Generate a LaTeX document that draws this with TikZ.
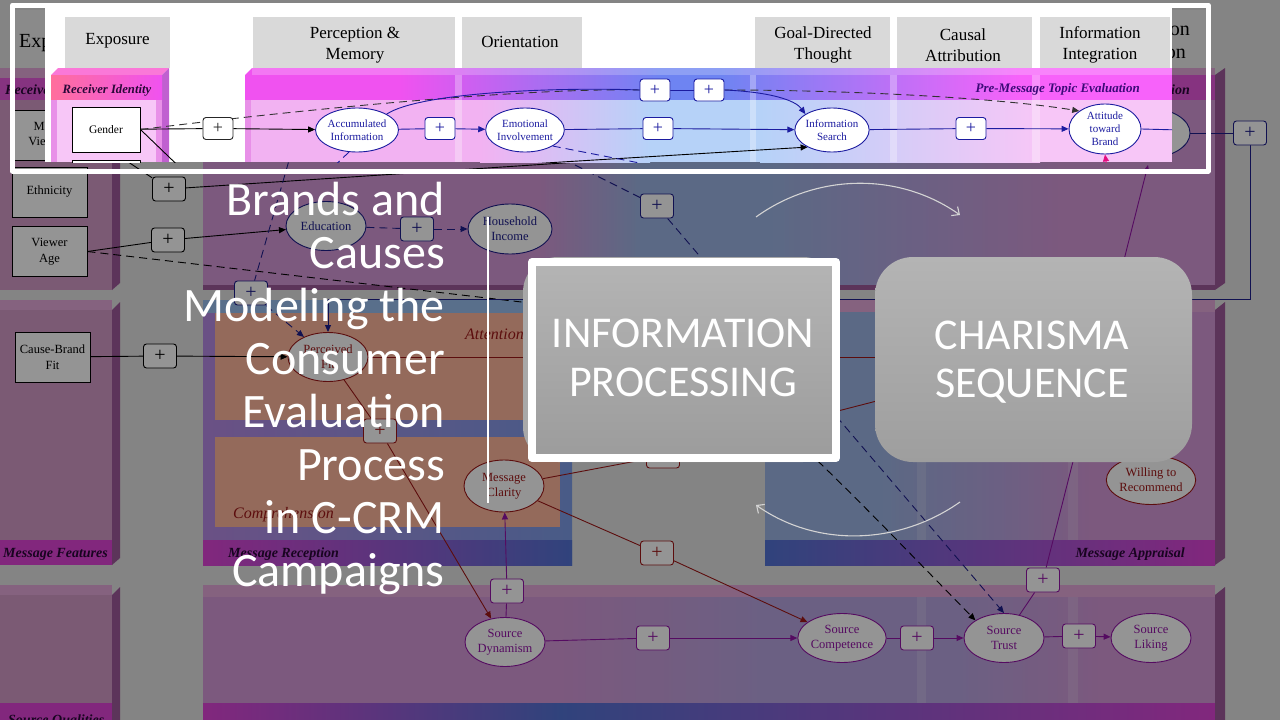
\documentclass[tikz,border=0pt]{standalone}
\usepackage{fontspec}
\setmainfont{Liberation Serif}
\newfontfamily\titlefont{Carlito}
\usetikzlibrary{shapes.geometric,arrows.meta,calc}
\pgfdeclarelayer{lpan}
\pgfdeclarelayer{ledge}
\pgfdeclarelayer{lnode}
\pgfdeclarelayer{lipan}
\pgfdeclarelayer{liedge}
\pgfsetlayers{lpan,ledge,lnode,lipan,liedge,main}
\definecolor{gapg}{HTML}{E4E4E4}
\definecolor{hdrg}{HTML}{EEEEEE}
\definecolor{lpbody}{HTML}{D49CC8}
\definecolor{lpside}{HTML}{A05A9C}
\definecolor{lptop}{HTML}{E6AADC}
\definecolor{hmag}{HTML}{E858DE}
\definecolor{midL}{HTML}{D69ADA}
\definecolor{midB}{HTML}{9EB6E6}
\definecolor{midV}{HTML}{BAA6E2}
\definecolor{mrL}{HTML}{B88CE6}
\definecolor{mrR}{HTML}{7E9EEA}
\definecolor{mrTop}{HTML}{9AC0F0}
\definecolor{orng}{HTML}{FFB89E}
\definecolor{bmag}{HTML}{E044D8}
\definecolor{bblue}{HTML}{5474D6}
\definecolor{navy}{HTML}{1E1E8C}
\definecolor{dred}{HTML}{A01818}
\definecolor{purp}{HTML}{9414A8}
\definecolor{inhdr}{HTML}{D9D9D9}
\definecolor{inPink}{HTML}{F2B2F2}
\definecolor{inPinkD}{HTML}{E890E8}
\definecolor{inPinkL}{HTML}{F7C6F7}
\definecolor{inBlue}{HTML}{B6D2F8}
\definecolor{inMag}{HTML}{F052F0}
\definecolor{inMag2}{HTML}{F762FA}
\definecolor{inHBlue}{HTML}{6E84F2}
\definecolor{inSal}{HTML}{FF6E9C}
\definecolor{inTop}{HTML}{FA78D8}
\definecolor{inSide}{HTML}{C060D0}
\definecolor{inNavy}{HTML}{1C1CA0}
\definecolor{lblc}{HTML}{2A0838}
\definecolor{pmlc}{HTML}{3C0A78}
\definecolor{ipT}{HTML}{B4B4B4}
\definecolor{ipB}{HTML}{9C9C9C}
\definecolor{ipBk}{HTML}{A8A8A8}
\definecolor{chT}{HTML}{B4B4B4}
\definecolor{chB}{HTML}{9E9E9E}
\definecolor{arcc}{HTML}{D4D4D4}
\tikzset{
 arr/.style={-{Triangle[length=7pt,width=6pt]}},
 bgell/.style={ellipse, draw=#1, line width=0.9pt, fill=white, text=#1, minimum width=80pt, minimum height=49pt, inner sep=0pt, align=center, font=\fontsize{12.5}{15}\selectfont},
 bgplus/.style={draw=#1, line width=0.9pt, fill=white, rounded corners=3pt, minimum width=33pt, minimum height=24pt, inner sep=0pt, text=#1, font=\fontsize{20}{20}\selectfont},
 bgbox/.style={draw=black, line width=0.9pt, fill=white, minimum width=75pt, minimum height=50pt, inner sep=0pt, align=center, font=\fontsize{12.5}{15.5}\selectfont},
 bglbl/.style={font=\fontsize{14}{14}\selectfont\bfseries\itshape, text=lblc, inner sep=0pt},
 attn/.style={anchor=base west, inner sep=0pt, text=dred, font=\fontsize{16}{16}\selectfont\itshape},
 inell/.style={ellipse, draw=inNavy, line width=0.9pt, fill=white, text=inNavy, minimum width=74pt, minimum height=44pt, inner sep=0pt, align=center, font=\fontsize{11}{12.5}\selectfont},
 inplus/.style={draw=#1, line width=0.9pt, fill=white, rounded corners=3pt, minimum width=30pt, minimum height=22pt, inner sep=0pt, text=#1, font=\fontsize{18}{18}\selectfont},
 inhead/.style={font=\fontsize{17}{21.5}\selectfont, align=center, inner sep=0pt},
 ttl/.style={anchor=base east, text=white, inner sep=0pt, font=\titlefont\fontsize{48}{53}\selectfont},
 bigt/.style={anchor=base, text=white, inner sep=0pt, font=\titlefont\fontsize{44}{48}\selectfont},
 bgline/.style={line width=0.9pt},
 dsh/.style={dash pattern=on 8pt off 5pt},
}
\begin{document}
\begin{tikzpicture}[x=1pt,y=-1pt,line join=round]
\useasboundingbox (0,0) rectangle (1280,720);

% ================= BACKGROUND PANELS
\begin{pgfonlayer}{lpan}
\fill[gapg] (0,0) rectangle (1280,720);
\fill[hdrg] (12,10) rectangle (120,68);
\fill[hdrg] (1085,10) rectangle (1207,68);
% left column
\fill[lptop] (0,68) rectangle (112,78);
\fill[hmag] (0,78) rectangle (112,100);
\fill[lpbody] (0,100) rectangle (112,290);
\fill[lpside] (112,78) -- (120,70) -- (120,283) -- (112,290) -- cycle;
\fill[lptop] (0,300) rectangle (112,310);
\fill[lpbody] (0,310) rectangle (112,540);
\fill[bmag] (0,540) rectangle (112,565);
\fill[lpside] (112,310) -- (120,302) -- (120,558) -- (112,565) -- cycle;
\fill[lptop] (0,585) rectangle (112,595);
\fill[lpbody] (0,595) rectangle (112,703);
\fill[bmag] (0,703) rectangle (112,720);
\fill[lpside] (112,595) -- (120,587) -- (120,720) -- (112,720) -- cycle;
% row 1 middle
\fill[lptop] (203,68) rectangle (1215,75);
\fill[hmag] (203,75) rectangle (1215,100);
\fill[midL] (203,100) rectangle (540,285);
\shade[left color=midL, right color=midB] (540,100) rectangle (640,285);
\fill[midB] (640,100) rectangle (770,285);
\shade[left color=midB, right color=midV] (770,100) rectangle (920,285);
\shade[left color=midV, right color=midL] (920,100) rectangle (1060,285);
\fill[midL] (1060,100) rectangle (1215,285);
\fill[lpside] (203,285) rectangle (1215,290);
\fill[lpside] (1215,75) -- (1225,68) -- (1225,283) -- (1215,290) -- cycle;
% message reception
\shade[left color=mrL, right color=mrR] (203,300) rectangle (572,565);
\fill[mrTop] (203,300) rectangle (572,313);
\fill[orng] (215,313) rectangle (560,420);
\fill[orng] (215,437) rectangle (560,527);
\shade[left color=bmag, right color=bblue] (203,540) rectangle (572,565);
% message appraisal
\fill[lptop] (765,300) rectangle (1215,312);
\fill[midB] (765,312) rectangle (880,540);
\shade[left color=midB, right color=midV] (880,312) rectangle (1000,540);
\shade[left color=midV, right color=midL] (1000,312) rectangle (1090,540);
\fill[midL] (1090,312) rectangle (1215,540);
\shade[left color=bblue, right color=bmag] (765,540) rectangle (1215,565);
\fill[lpside] (1215,310) -- (1225,302) -- (1225,558) -- (1215,565) -- cycle;
% source row
\fill[lptop] (203,585) rectangle (1215,597);
\fill[midL] (203,597) rectangle (560,703);
\shade[left color=midL, right color=midV] (560,597) rectangle (760,703);
\fill[midV] (760,597) rectangle (960,703);
\shade[left color=midV, right color=midL] (960,597) rectangle (1100,703);
\fill[midL] (1100,597) rectangle (1215,703);
\shade[left color=bmag, right color=bblue] (203,703) rectangle (560,720);
\shade[left color=bblue, right color=bmag] (560,703) rectangle (1215,720);
\fill[lpside] (1215,595) -- (1225,587) -- (1225,720) -- (1215,720) -- cycle;
% faint column stripes
\fill[white, opacity=0.18] (917,312) rectangle (926,540);
\fill[white, opacity=0.18] (1068,312) rectangle (1078,540);
\fill[white, opacity=0.18] (917,597) rectangle (926,703);
\fill[white, opacity=0.18] (1068,597) rectangle (1078,703);
% labels
\node[anchor=base west, font=\fontsize{20}{20}\selectfont, inner sep=0pt] (bgExp) at (19,47) {Exposure};
\node[anchor=base, font=\fontsize{20}{20}\selectfont, inner sep=0pt] (bgInfA) at (1142,35) {Information};
\node[anchor=base, font=\fontsize{20}{20}\selectfont, inner sep=0pt] (bgInfB) at (1142,58) {Integration};
\node[bglbl, anchor=base west] (bgRI) at (5,94) {Receiver Identity};
\node[bglbl, anchor=base east] (bgPM) at (1190,94) {Pre-Message Topic Evaluation};
\node[bglbl, anchor=base west] (bgMF) at (3,557) {Message Features};
\node[bglbl, anchor=base west] (bgSQ) at (8,724) {Source Qualities};
\node[bglbl, anchor=base west] (bgMR) at (228,557) {Message Reception};
\node[bglbl, anchor=base east] (bgMA) at (1185,557) {Message Appraisal};
\node[attn] (bgAtt) at (465,339) {Attention};
\node[attn] (bgComp) at (233,518) {Comprehension};
\end{pgfonlayer}

% ================= BACKGROUND NODES
\begin{pgfonlayer}{lnode}
\node[bgbox] (mvi) at (49.5,135) {Media\\Viewing};
\node[bgbox] (eth) at (49.5,192) {Ethnicity};
\node[bgbox] (vage) at (49.5,251.5) {Viewer\\Age};
\node[bgbox] (cbf) at (52.5,357) {Cause-Brand\\Fit};
\node[bgplus=black] (bp1) at (169,189) {+};
\node[bgplus=black] (bp2) at (168,240) {+};
\node[bgplus=black] (bp3) at (160,356) {+};
\node[bgplus=navy] (bp4) at (251,293) {+};
\node[bgplus=navy] (bp5) at (417,229) {+};
\node[bgplus=navy] (bp6) at (657,206) {+};
\node[bgplus=navy] (bp7) at (1250,133) {+};
\node[bgplus=dred] (bp8) at (380,431) {+};
\node[bgplus=dred] (bp9) at (663,456) {+};
\node[bgplus=dred] (bp10) at (657,553) {+};
\node[bgplus=purp] (bp11) at (507,591) {+};
\node[bgplus=purp] (bp12) at (653,638) {+};
\node[bgplus=purp] (bp13) at (917,638) {+};
\node[bgplus=purp] (bp14) at (1079,636) {+};
\node[bgplus=purp] (bp15) at (1043,580) {+};
\node[bgell=navy] (edu) at (326,226) {Education};
\node[bgell=navy, minimum width=84pt, minimum height=50pt] (hhi) at (510,229) {Household\\Income};
\node[bgell=navy] (bigE) at (1150,133) {};
\node[bgell=dred] (pf) at (328,357) {Perceived\\Fit};
\node[bgell=dred, minimum height=52pt] (mc) at (504,486) {Message\\Clarity};
\node[bgell=purp] (sd) at (505,642) {Source\\Dynamism};
\node[bgell=purp] (sc) at (842,638) {Source\\Competence};
\node[bgell=purp] (st) at (1004,638) {Source\\Trust};
\node[bgell=purp] (sl) at (1151,638) {Source\\Liking};
\node[bgell=dred, minimum width=84pt] (wr) at (1151,480) {Willing to\\Recommend};
\end{pgfonlayer}

% ================= BACKGROUND EDGES
\begin{pgfonlayer}{ledge}
\draw[bgline] (mvi.east) -- (bp1);
\draw[bgline] (bp1) -- (760,150);
\draw[bgline] (vage.east) -- (bp2);
\draw[bgline, arr] (bp2) -- (edu);
\draw[bgline, dsh, arr] (vage.east) -- (530,303) .. controls (700,330) and (760,400) .. (st.north west);
\draw[bgline] (cbf) -- (bp3);
\draw[bgline, arr] (bp3) -- (pf);
\draw[bgline, navy, dsh] (292,150) -- (bp4);
\draw[bgline, navy, dsh, arr] (bp4) -- (pf);
\draw[bgline, navy, dsh] (edu) -- (bp5);
\draw[bgline, navy, dsh, arr] (bp5) -- (hhi);
\draw[bgline, navy, dsh] (575,165) -- (bp6);
\draw[bgline, navy, dsh, arr] (bp6) -- (st.north);
\draw[bgline, navy] (bigE) -- (bp7);
\draw[bgline, navy, arr] (bp7) |- ($(pf.north)+(0,-33)$) -- (pf.north);
\draw[bgline, dred] (pf.east) -- (900,357);
\draw[bgline, dred] (pf) -- (bp8);
\draw[bgline, dred, arr] (bp8) -- (sd);
\draw[bgline, dred] (mc) -- (bp9);
\draw[bgline, dred] (bp9) -- (900,395);
\draw[bgline, dred] (mc) -- (bp10);
\draw[bgline, dred, arr] (bp10) -- (sc);
\draw[bgline, purp] (sd) -- (bp11);
\draw[bgline, purp, arr] (bp11) -- (mc);
\draw[bgline, purp] (sd) -- (bp12);
\draw[bgline, purp, arr] (bp12) -- (sc);
\draw[bgline, purp] (sc) -- (bp13);
\draw[bgline, purp, arr] (bp13) -- (st);
\draw[bgline, purp] (st) -- (bp14);
\draw[bgline, purp, arr] (bp14) -- (sl);
\draw[bgline, purp] (st) -- (bp15);
\draw[bgline, purp, arr] (bp15) -- (1148,165);
\end{pgfonlayer}

% ================= DIM OVERLAY + INSET PANELS
\begin{pgfonlayer}{lipan}
\fill[black, opacity=0.42] (0,0) rectangle (1280,720);
\begin{scope}
\clip (45,6) rectangle (1172,162);
\fill[white] (45,6) rectangle (1172,162);
\fill[inhdr] (65,17) rectangle (170,68);
\fill[inhdr] (253,17) rectangle (455,68);
\fill[inhdr] (462,17) rectangle (582,68);
\fill[inhdr] (755,17) rectangle (890,68);
\fill[inhdr] (897,17) rectangle (1032,68);
\fill[inhdr] (1040,17) rectangle (1170,68);
\node[inhead] (hExp) at (117.5,41) {Exposure};
\node[inhead] (hPM) at (355,45) {Perception \&\\Memory};
\node[inhead] (hOr) at (520,42) {Orientation};
\node[inhead] (hGD) at (823,45) {Goal-Directed\\Thought};
\node[inhead] (hCA) at (963,45) {Causal\\Attribution};
\node[inhead] (hII) at (1100,45) {Information\\Integration};
% receiver identity panel
\fill[inTop] (51,75) -- (58,68) -- (169,68) -- (162,75) -- cycle;
\fill[inSide] (162,75) -- (169,68) -- (169,162) -- (162,162) -- cycle;
\shade[left color=inSal, right color=inMag] (51,75) rectangle (162,100);
\fill[inPinkD] (51,100) rectangle (162,162);
\fill[inPinkL] (57,100) rectangle (156,162);
\node[anchor=base, inner sep=0pt, text=lblc, font=\fontsize{12.7}{13}\selectfont\bfseries\itshape] (riLbl) at (107,93) {Receiver Identity};
% pre-message panel
\fill[inMag] (245,75) -- (252,68) -- (400,68) -- (400,100) -- (245,100) -- cycle;
\shade[left color=inMag, right color=inHBlue] (400,68) rectangle (660,100);
\fill[inHBlue] (660,68) rectangle (720,100);
\shade[left color=inHBlue, right color=inMag2] (720,68) rectangle (1020,100);
\fill[inMag2] (1020,68) rectangle (1172,100);
\fill[white, opacity=0.22] (252,68) rectangle (1172,75);
\fill[inPink] (245,100) rectangle (480,162);
\shade[left color=inPink, right color=inBlue] (480,100) rectangle (650,162);
\fill[inBlue] (650,100) rectangle (760,162);
\shade[left color=inBlue, right color=inPinkL] (760,100) rectangle (1040,162);
\fill[inPinkL] (1040,100) rectangle (1172,162);
\fill[inPinkD] (245,100) rectangle (251,162);
\fill[white, opacity=0.3] (455,75) rectangle (462,162);
\fill[white, opacity=0.3] (750,75) rectangle (756,162);
\fill[white, opacity=0.3] (890,75) rectangle (897,162);
\fill[white, opacity=0.3] (1032,75) rectangle (1040,162);
\node[anchor=base east, inner sep=0pt, text=pmlc, font=\fontsize{13}{13}\selectfont\bfseries\itshape] (pmLbl) at (1140,92) {Pre-Message Topic Evaluation};
\end{scope}
\end{pgfonlayer}

% ================= INSET NODES
\begin{scope}
\clip (45,6) rectangle (1172,162);
\node[draw=black, line width=0.9pt, fill=white, minimum width=68pt, minimum height=45pt, inner sep=0pt, font=\fontsize{11.5}{13}\selectfont] (gender) at (106,129.5) {Gender};
\node[draw=black, line width=0.9pt, fill=white, minimum width=68pt, minimum height=45pt, inner sep=0pt] (gbox2) at (106,182.5) {};
\node[inell] (acc) at (357,130) {Accumulated\\Information};
\node[inell] (ei) at (525,130) {Emotional\\Involvement};
\node[inell, minimum width=72pt] (is) at (832,130) {Information\\Search};
\node[inell, minimum width=72pt, minimum height=50pt, font=\fontsize{11}{13}\selectfont] (att) at (1105,129) {Attitude\\toward\\Brand};
\node[inplus=black!85] (ip1) at (218,128.5) {+};
\node[inplus=inNavy] (ip2) at (440,128.5) {+};
\node[inplus=inNavy] (ip3) at (658,128.5) {+};
\node[inplus=inNavy] (ip4) at (971,128.5) {+};
\node[inplus=inNavy] (ip5) at (655,90) {+};
\node[inplus=inNavy] (ip6) at (709,90) {+};
\end{scope}

% ================= INSET EDGES
\begin{pgfonlayer}{liedge}
\begin{scope}
\clip (45,6) rectangle (1172,162);
\draw[bgline] (gender) -- (ip1);
\draw[bgline, arr] (ip1) -- (acc);
\draw[bgline] (gender.east) -- (195,182);
\draw[bgline, black!80, dsh] (gender.east) .. controls (380,100) and (560,88) .. (ip5.west);
\draw[bgline, black!80, dsh, arr] (ip6.east) .. controls (850,90) and (1000,98) .. (att.north west);
\draw[bgline, inNavy] (acc.north east) .. controls (420,92) and (560,87) .. (ip5.west);
\draw[bgline, inNavy] (ip5) -- (ip6);
\draw[bgline, inNavy, arr] (ip6.east) .. controls (770,92) and (795,100) .. (is.north west);
\draw[bgline, inNavy] (acc) -- (ip2);
\draw[bgline, inNavy, arr] (ip2) -- (ei);
\draw[bgline, inNavy] (ei) -- (ip3);
\draw[bgline, inNavy, arr] (ip3) -- (is);
\draw[bgline, inNavy] (is) -- (ip4);
\draw[bgline, inNavy, arr] (ip4) -- (att);
\draw[bgline, arr] (430,170) -- (is.215);
\draw[bgline, inNavy, dsh] (acc.250) -- (325,175);
\draw[bgline, inNavy, dsh] (ei.330) -- (660,167);
\draw[bgline, magenta!80!purple, arr] (1108,175) -- (att.south);
\draw[bgline, inNavy] (att.east) -- (1180,130);
\end{scope}
\end{pgfonlayer}

% ================= FRAME
\draw[white, line width=5pt] (12.5,5) rectangle (1208,171);

% ================= TITLE
\node[ttl] (t1) at (445,215) {Brands and};
\node[ttl] (t2) at (445,268) {Causes};
\node[ttl] (t3) at (445,321) {Modeling the};
\node[ttl] (t4) at (445,374) {Consumer};
\node[ttl] (t5) at (445,427) {Evaluation};
\node[ttl] (t6) at (445,480) {Process};
\node[ttl] (t7) at (445,533) {in C-CRM};
\node[ttl] (t8) at (445,586) {Campaigns};
\draw[white, line width=2.5pt] (488,217) -- (488,503);

% ================= INFORMATION PROCESSING
\fill[ipBk, rounded corners=35pt] (523,257) rectangle (838,462);
\shade[top color=ipT, bottom color=ipB] (532,262) rectangle (836,458);
\draw[white, line width=8pt] (532,262) rectangle (836,458);
\node[bigt] (ipa) at (683,347) {INFORMATION};
\node[bigt] (ipb) at (683,396) {PROCESSING};

% ================= CHARISMA SEQUENCE
\shade[top color=chT, bottom color=chB, rounded corners=38pt] (875,257) rectangle (1192,462);
\node[bigt] (cha) at (1032,349) {CHARISMA};
\node[bigt] (chb) at (1032,397) {SEQUENCE};

% ================= ARCS
\coordinate (a1s) at (756,217);
\coordinate (a1e) at (960,215);
\coordinate (a2s) at (960,502);
\coordinate (a2e) at (756,505);
\draw[arcc, line width=1.1pt, -{Straight Barb[length=6pt,width=11pt]}] (a1s) .. controls (817,173) and (899,172) .. (a1e);
\draw[arcc, line width=1.1pt, -{Straight Barb[length=6pt,width=11pt]}] (a2s) .. controls (899,545) and (817,548) .. (a2e);
\end{tikzpicture}
\end{document}
